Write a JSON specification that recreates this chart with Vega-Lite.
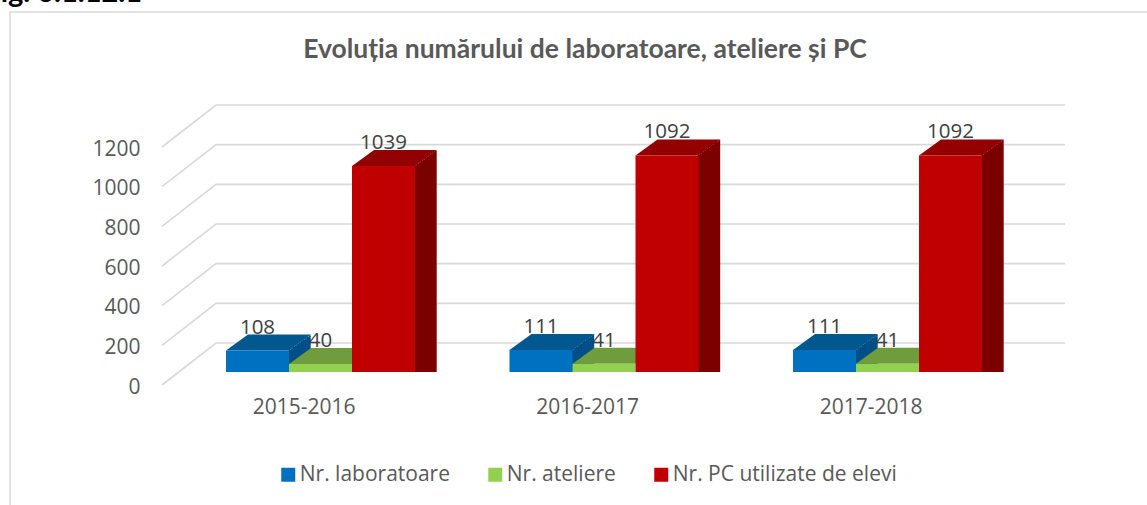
{
"$schema":"https://vega.github.io/schema/vega-lite/v6.json",
"width":850.5,"height":238,"autosize":"none","padding":{"left":178.75,"top":134,"right":117.75,"bottom":133},
"background":"white",
"config":{"view":{"stroke":null}},
"title":{"text":"Evoluția numărului de laboratoare, ateliere și PC","font":"Lato","fontSize":26.5,"fontWeight":"bold","color":"#595959","anchor":"middle","frame":"group","dx":-19,"offset":72,"dy":178,"baseline":"alphabetic"},
"datasets":{"bare":[
{"An":"2015-2016","Serie":"Nr. laboratoare","Valoare":108},{"An":"2015-2016","Serie":"Nr. ateliere","Valoare":40},{"An":"2015-2016","Serie":"Nr. PC  utilizate de elevi","Valoare":1039},
{"An":"2016-2017","Serie":"Nr. laboratoare","Valoare":111},{"An":"2016-2017","Serie":"Nr. ateliere","Valoare":41},{"An":"2016-2017","Serie":"Nr. PC  utilizate de elevi","Valoare":1092},
{"An":"2017-2018","Serie":"Nr. laboratoare","Valoare":111},{"An":"2017-2018","Serie":"Nr. ateliere","Valoare":41},{"An":"2017-2018","Serie":"Nr. PC  utilizate de elevi","Valoare":1092}
]},
"layer":[
{"data":{"values":[{"k":"frame"}]},"mark":{"type":"point","shape":"M-594,252L-594,-241L543,-241","size":4,"filled":false,"stroke":"#d9d9d9","strokeWidth":1.5,"opacity":1},"encoding":{}},
{"data":{"values":[{"Valoare":0},{"Valoare":200},{"Valoare":400},{"Valoare":600},{"Valoare":800},{"Valoare":1000},{"Valoare":1200}]},
"encoding":{"y":{"field":"Valoare","type":"quantitative","scale":{"domain":[0,1200],"nice":false},"axis":{"title":"Fig. 6.1.12.1","titleFont":"Lato","titleFontSize":29,"titleFontWeight":"bold","titleColor":"#000000","titleAngle":0,"titleAlign":"left","titleBaseline":"alphabetic","titleX":-195,"titleY":-133,"domain":false,"ticks":false,"grid":false,"labels":false}}},
"layer":[
{"mark":{"type":"point","shape":"M-442,13L-388,-29L461,-29","size":4,"filled":false,"stroke":"#d9d9d9","strokeWidth":1.6,"opacity":1}},
{"mark":{"type":"text","font":"Open Sans","fontSize":21,"color":"#595959","align":"right","baseline":"middle","dx":-463.5,"dy":15.5},"encoding":{"text":{"field":"Valoare","type":"quantitative","format":"d"}}}
]},
{"data":{"name":"bare"},"transform":[{"filter":"datum.Serie == 'Nr. laboratoare'"}],
"encoding":{"x":{"field":"An","type":"nominal"},"y":{"field":"Valoare","type":"quantitative"},"y2":{"datum":0}},
"layer":[
{"mark":{"type":"rule","strokeWidth":3,"stroke":"#004f86","xOffset":-30.5,"yOffset":-0.7}},
{"mark":{"type":"rule","strokeWidth":3,"stroke":"#004f86","xOffset":-28.5,"yOffset":-2.2}},
{"mark":{"type":"rule","strokeWidth":3,"stroke":"#004f86","xOffset":-26.5,"yOffset":-3.6}},
{"mark":{"type":"rule","strokeWidth":3,"stroke":"#004f86","xOffset":-24.5,"yOffset":-5.1}},
{"mark":{"type":"rule","strokeWidth":3,"stroke":"#004f86","xOffset":-22.5,"yOffset":-6.5}},
{"mark":{"type":"rule","strokeWidth":3,"stroke":"#004f86","xOffset":-20.5,"yOffset":-8}},
{"mark":{"type":"rule","strokeWidth":3,"stroke":"#004f86","xOffset":-18.5,"yOffset":-9.5}},
{"mark":{"type":"rule","strokeWidth":3,"stroke":"#004f86","xOffset":-16.5,"yOffset":-10.9}},
{"mark":{"type":"rule","strokeWidth":3,"stroke":"#004f86","xOffset":-14.5,"yOffset":-12.4}},
{"mark":{"type":"rule","strokeWidth":3,"stroke":"#004f86","xOffset":-12.5,"yOffset":-13.8}},
{"mark":{"type":"rule","strokeWidth":2,"stroke":"#004f86","xOffset":-10.8,"yOffset":-15.3}}
]},
{"data":{"name":"bare"},"transform":[{"filter":"datum.Serie == 'Nr. PC  utilizate de elevi'"}],
"encoding":{"x":{"field":"An","type":"nominal"},"y":{"field":"Valoare","type":"quantitative"},"y2":{"datum":0}},
"layer":[
{"mark":{"type":"rule","strokeWidth":3,"stroke":"#7b0000","xOffset":95.5,"yOffset":-0.7}},
{"mark":{"type":"rule","strokeWidth":3,"stroke":"#7b0000","xOffset":97.5,"yOffset":-2.2}},
{"mark":{"type":"rule","strokeWidth":3,"stroke":"#7b0000","xOffset":99.5,"yOffset":-3.6}},
{"mark":{"type":"rule","strokeWidth":3,"stroke":"#7b0000","xOffset":101.5,"yOffset":-5.1}},
{"mark":{"type":"rule","strokeWidth":3,"stroke":"#7b0000","xOffset":103.5,"yOffset":-6.5}},
{"mark":{"type":"rule","strokeWidth":3,"stroke":"#7b0000","xOffset":105.5,"yOffset":-8}},
{"mark":{"type":"rule","strokeWidth":3,"stroke":"#7b0000","xOffset":107.5,"yOffset":-9.5}},
{"mark":{"type":"rule","strokeWidth":3,"stroke":"#7b0000","xOffset":109.5,"yOffset":-10.9}},
{"mark":{"type":"rule","strokeWidth":3,"stroke":"#7b0000","xOffset":111.5,"yOffset":-12.4}},
{"mark":{"type":"rule","strokeWidth":3,"stroke":"#7b0000","xOffset":113.5,"yOffset":-13.8}},
{"mark":{"type":"rule","strokeWidth":2,"stroke":"#7b0000","xOffset":115.2,"yOffset":-15.3}}
]},
{"data":{"name":"bare"},
"encoding":{
"x":{"field":"An","type":"nominal","scale":{"paddingInner":0.3333,"paddingOuter":0.16667},"axis":{"title":null,"domain":false,"ticks":false,"grid":false,"labelAngle":0,"labelFont":"Open Sans","labelFontSize":21,"labelColor":"#595959","labelPadding":35,"labelOffset":35}},
"xOffset":{"field":"Serie","type":"nominal","sort":["Nr. laboratoare","Nr. ateliere","Nr. PC  utilizate de elevi"],"scale":{"paddingInner":0,"paddingOuter":0}},
"y":{"field":"Valoare","type":"quantitative"}
},
"layer":[
{"mark":{"type":"point","shape":"M-31.5,0L-9.5,-16L53.5,-16L31.5,0Z","size":4,"filled":true,"opacity":1,"strokeWidth":0},"encoding":{"fill":{"field":"Serie","type":"nominal","sort":["Nr. laboratoare","Nr. ateliere","Nr. PC  utilizate de elevi"],"scale":{"range":["#00588f","#6f9c3c","#930000"]},"legend":null}}},
{"mark":{"type":"bar"},"encoding":{"y2":{"datum":0},"color":{"field":"Serie","type":"nominal","sort":["Nr. laboratoare","Nr. ateliere","Nr. PC  utilizate de elevi"],"scale":{"range":["#0070c0","#92d050","#c00000"]},"legend":{"title":null,"orient":"none","legendX":99,"legendY":330,"direction":"horizontal","columns":3,"columnPadding":34,"symbolType":"square","symbolSize":196,"symbolStrokeWidth":0,"symbolOpacity":1,"labelFont":"Open Sans","labelFontSize":21,"labelColor":"#595959","labelLimit":400,"labelOffset":1}}}},
{"mark":{"type":"text","font":"Open Sans","fontSize":20.5,"color":"#404040","baseline":"alphabetic","dy":-17},"encoding":{"text":{"field":"Valoare","type":"quantitative"}}}
]}
]
}
